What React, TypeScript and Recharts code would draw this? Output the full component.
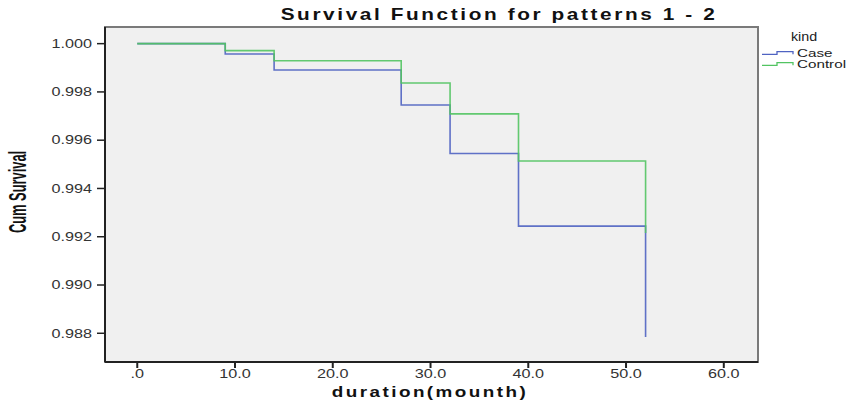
import { Line, LineChart, ReferenceArea, XAxis, YAxis } from 'recharts';

// survival steps (duration in months)
const caseTimes = [0, 9, 14, 27, 32, 39, 52];
const caseSurvival = [1.0, 0.99957, 0.99891, 0.99746, 0.99545, 0.99244, 0.98785];
const controlTimes = [0, 9, 14, 27, 32, 39, 52];
const controlSurvival = [1.0, 0.99971, 0.99929, 0.99837, 0.99709, 0.99514, 0.99216];

const xTicks = [0, 10, 20, 30, 40, 50, 60];
const yTicks = [0.988, 0.99, 0.992, 0.994, 0.996, 0.998, 1.0];

const X_DOMAIN: [number, number] = [-3.3, 63.5];
const Y_DOMAIN: [number, number] = [0.98681, 1.00069];

const CASE_COLOR = '#4f63c2';
const CONTROL_COLOR = '#52c462';
const FONT = 'Arial, "Liberation Sans", sans-serif';
// the SPSS export looks stretched sideways, so text gets widened a bit
const STRETCH = 1.35;

const caseData = caseTimes.map((t, i) => ({ t, s: caseSurvival[i] }));
const controlData = controlTimes.map((t, i) => ({ t, s: controlSurvival[i] }));

function XTick({ x, y, payload }: any) {
  const v = payload.value as number;
  return (
    <g transform={`translate(${x},${y})`}>
      <text transform={`scale(${STRETCH},1)`} textAnchor="middle" dy="0.71em" fontSize={12} fill="#333" fontFamily={FONT}>
        {v === 0 ? '.0' : v.toFixed(1)}
      </text>
    </g>
  );
}

function YTick({ x, y, payload }: any) {
  const v = payload.value as number;
  return (
    <g transform={`translate(${x},${y})`}>
      <text transform={`scale(${STRETCH},1)`} textAnchor="end" dy="0.355em" fontSize={12} fill="#333" fontFamily={FONT}>
        {v.toFixed(3)}
      </text>
    </g>
  );
}

function Overlay() {
  const items = [
    { name: 'Case', color: CASE_COLOR, y: 53 },
    { name: 'Control', color: CONTROL_COLOR, y: 64 },
  ];
  return (
    <svg width={854} height={401} style={{ position: 'absolute', left: 0, top: 0, pointerEvents: 'none' }}>
      <text
        transform={`translate(499,20) scale(1.3,1)`}
        textAnchor="middle"
        fontFamily={FONT}
        fontWeight="bold"
        fontSize={16}
        letterSpacing={2}
        fill="#111"
      >
        Survival Function for patterns 1 - 2
      </text>
      <text
        transform={`translate(430,397) scale(1.35,1)`}
        textAnchor="middle"
        fontFamily={FONT}
        fontWeight="bold"
        fontSize={14}
        letterSpacing={1.8}
        fill="#111"
      >
        duration(mounth)
      </text>
      <text
        transform="translate(26,192) rotate(-90) scale(0.56,1)"
        textAnchor="middle"
        fontFamily={FONT}
        fontWeight="bold"
        fontSize={23}
        fill="#111"
      >
        Cum Survival
      </text>
      <text transform="translate(804,41) scale(1.1,1)" textAnchor="middle" fontFamily={FONT} fontSize={13} fill="#222">
        kind
      </text>
      {items.map((it) => (
        <g key={it.name}>
          <polyline
            points={`762,${it.y + 1.3} 777,${it.y + 1.3} 777,${it.y - 1.3} 793,${it.y - 1.3} 793,${it.y + 1.3}`}
            fill="none"
            stroke={it.color}
            strokeWidth={1.3}
          />
          <text transform={`translate(797,${it.y + 3.7}) scale(1.45,1)`} fontFamily={FONT} fontSize={10.5} fill="#222">
            {it.name}
          </text>
        </g>
      ))}
    </svg>
  );
}

export default function App() {
  return (
    <div style={{ position: 'absolute', left: 0, top: 0, width: 854, height: 401, background: '#fff' }}>
      <LineChart width={854} height={401} margin={{ top: 27, right: 96, bottom: 0, left: 0 }}>
        <ReferenceArea
          x1={X_DOMAIN[0]}
          x2={X_DOMAIN[1]}
          y1={Y_DOMAIN[0]}
          y2={Y_DOMAIN[1]}
          fill="#f0f0f0"
          fillOpacity={1}
          stroke="#7a7a7a"
          strokeWidth={2}
          ifOverflow="visible"
        />
        <XAxis
          type="number"
          dataKey="t"
          domain={X_DOMAIN}
          ticks={xTicks}
          allowDataOverflow
          height={39}
          tickSize={6}
          tickMargin={1}
          tick={<XTick />}
          tickLine={{ stroke: '#222', strokeWidth: 2 }}
          axisLine={{ stroke: '#222', strokeWidth: 2 }}
        />
        <YAxis
          type="number"
          dataKey="s"
          domain={Y_DOMAIN}
          ticks={yTicks}
          allowDataOverflow
          width={105}
          tickSize={8}
          tickMargin={5}
          tick={<YTick />}
          tickLine={{ stroke: '#222', strokeWidth: 1.5 }}
          axisLine={{ stroke: '#222', strokeWidth: 2 }}
        />
        <Line
          data={caseData}
          dataKey="s"
          name="Case"
          type="stepAfter"
          stroke={CASE_COLOR}
          strokeWidth={1.6}
          strokeOpacity={0.9}
          dot={false}
          isAnimationActive={false}
        />
        <Line
          data={controlData}
          dataKey="s"
          name="Control"
          type="stepAfter"
          stroke={CONTROL_COLOR}
          strokeWidth={1.6}
          strokeOpacity={0.9}
          dot={false}
          isAnimationActive={false}
        />
      </LineChart>
      <Overlay />
    </div>
  );
}
